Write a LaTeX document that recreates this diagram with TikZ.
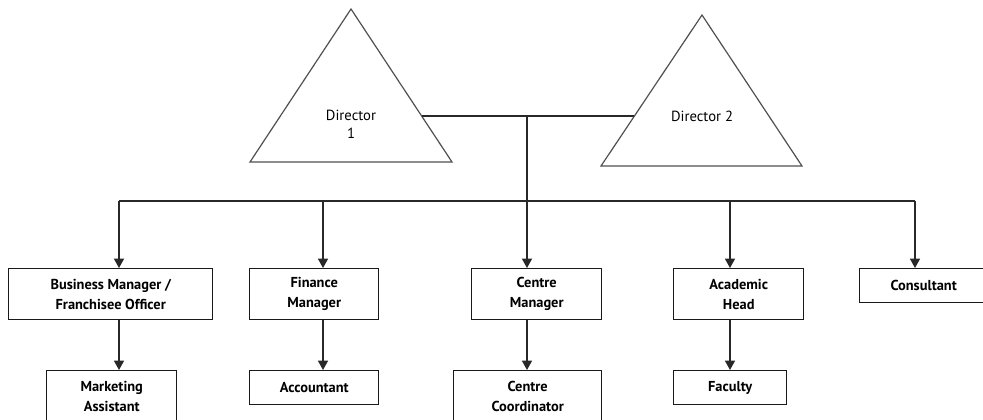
\documentclass[tikz,border=0pt]{standalone}
\usepackage{fontspec}
\setmainfont{PT Sans}
\usetikzlibrary{arrows.meta}
\tikzset{every picture/.style={line width=0.75pt}}

\begin{document}
\begin{tikzpicture}[x=0.75pt,y=0.75pt,yscale=-1,xscale=1,
	post/.style={draw={rgb, 255:red, 25; green, 25; blue, 25 }, line width=1.1pt, align=center, anchor=north west, inner sep=0pt, font=\bfseries\fontsize{10.8}{15}\selectfont},
	tri/.style={draw={rgb, 255:red, 80; green, 80; blue, 80 }, line width=0.9pt},
	link/.style={draw={rgb, 255:red, 40; green, 40; blue, 40 }, line width=1.1pt},
	arr/.style={link, -{Triangle[width=7.5pt,length=7pt]}}]
	\clip (0,0) rectangle (983,420);
	
	%Shape: Triangle
	\draw [tri] (351,9) -- (452,162) -- (250,162) -- cycle ;
	%Shape: Triangle
	\draw [tri] (702,15) -- (802,166) -- (601,166) -- cycle ;
	
	% Text Node
	\node (dir1) at (351,124) [align=center, font=\fontsize{11}{13.5}\selectfont] {Director\\1};
	% Text Node
	\node (dir2) at (702,116) [font=\fontsize{11}{13.5}\selectfont] {Director 2};
	
	%Points on the triangles and on the bar
	\coordinate (d1) at (422,116);
	\coordinate (d2) at (634,116);
	\coordinate (b1) at (119,201);
	\coordinate (b2) at (323,201);
	\coordinate (b3) at (527,201);
	\coordinate (b4) at (730,201);
	\coordinate (b5) at (915,201);
	
	%Straight Lines
	\draw [link] (d1) -- (d2) ;
	%Straight Lines
	\draw [link] (d1 -| b3) -- (b3) ;
	%Straight Lines
	\draw [link] (b1) -- (b5) ;
	
	% Boxes
	\node [post, minimum width=153pt, minimum height=38.25pt] (biz) at (8,268) {Business Manager /\\Franchisee Officer};
	\node [post, minimum width=96.75pt, minimum height=38.25pt] (fin) at (249,268) {Finance\\Manager};
	\node [post, minimum width=97.5pt, minimum height=38.25pt] (cm) at (471,268) {Centre\\Manager};
	\node [post, minimum width=97.5pt, minimum height=38.25pt] (ah) at (673,268) {Academic\\Head};
	\node [post, minimum width=96pt, minimum height=25.5pt] (con) at (859,268) {Consultant};
	\node [post, minimum width=97.5pt, minimum height=38.25pt] (ma) at (46,370) {Marketing\\Assistant};
	\node [post, minimum width=96.75pt, minimum height=25.5pt] (acc) at (249,370) {Accountant};
	\node [post, minimum width=111pt, minimum height=38.25pt] (cc) at (453,370) {Centre\\Coordinator};
	\node [post, minimum width=84.75pt, minimum height=25.5pt] (fac) at (673,370) {Faculty};
	
	%Straight Lines
	\draw [arr] (b1) -- (b1 |- biz.north) ;
	%Straight Lines
	\draw [arr] (b2) -- (b2 |- fin.north) ;
	%Straight Lines
	\draw [arr] (b3) -- (b3 |- cm.north) ;
	%Straight Lines
	\draw [arr] (b4) -- (b4 |- ah.north) ;
	%Straight Lines
	\draw [arr] (b5) -- (b5 |- con.north) ;
	%Straight Lines
	\draw [arr] (b1 |- biz.south) -- (b1 |- ma.north) ;
	%Straight Lines
	\draw [arr] (b2 |- fin.south) -- (b2 |- acc.north) ;
	%Straight Lines
	\draw [arr] (b3 |- cm.south) -- (b3 |- cc.north) ;
	%Straight Lines
	\draw [arr] (b4 |- ah.south) -- (b4 |- fac.north) ;
	
\end{tikzpicture}
\end{document}
